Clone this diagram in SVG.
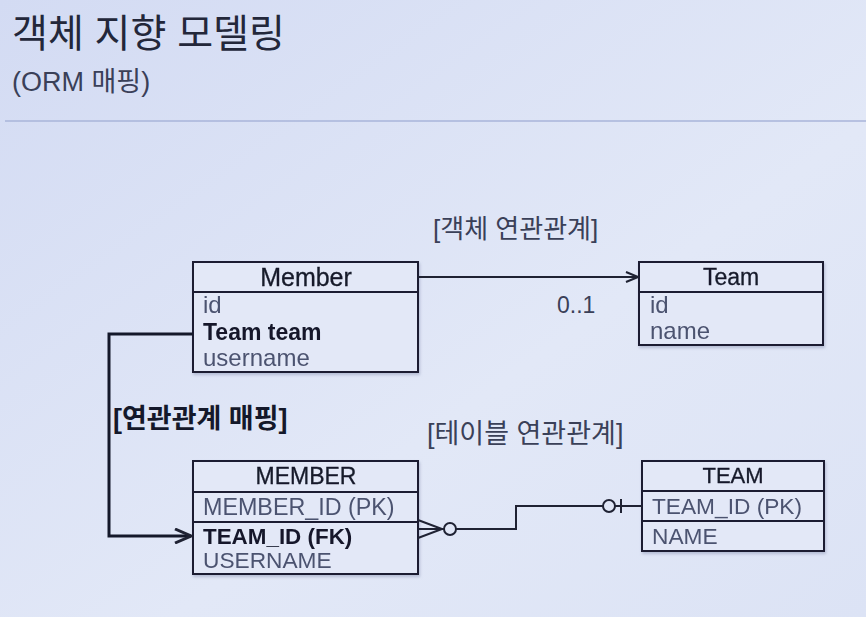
<svg xmlns="http://www.w3.org/2000/svg" width="866" height="617" viewBox="0 0 866 617">
<defs>
<linearGradient id="bg" x1="0" y1="0" x2="1" y2="1">
<stop offset="0" stop-color="#d3dbf3"/>
<stop offset="0.6" stop-color="#e2e8f7"/>
<stop offset="1" stop-color="#dce3f5"/>
</linearGradient>
<marker id="open" markerWidth="14" markerHeight="12" refX="13" refY="6" orient="auto" markerUnits="userSpaceOnUse">
<path d="M1,1 L13,6 L1,11" fill="none" stroke="#1f2233" stroke-width="2"/>
</marker>
<marker id="openB" markerWidth="18" markerHeight="16" refX="17" refY="8" orient="auto" markerUnits="userSpaceOnUse">
<path d="M1,1 L17,8 L1,15" fill="none" stroke="#1f2233" stroke-width="3"/>
</marker>
<filter id="sh" x="-5%" y="-5%" width="110%" height="115%">
<feDropShadow dx="1" dy="2" stdDeviation="1.5" flood-color="#8890b0" flood-opacity="0.5"/>
</filter>
</defs>
<style>
text{font-family:"Liberation Sans","Noto Sans CJK KR",sans-serif;fill:#1e2233}
.box{fill:#e3e8f7;stroke:#1c1f30;stroke-width:2}
.div{stroke:#1c1f30;stroke-width:2}
.hd{font-size:23px;text-anchor:middle;fill:#161a2a;stroke:#161a2a;stroke-width:0.3}
.at{font-size:24px;fill:#4c5370}
.up{font-size:22.7px;fill:#4c5370}
.bd{font-size:23px;fill:#14182a;font-weight:700}
.lbl{font-size:26px;fill:#3a4058}
.ln{fill:none;stroke:#1f2233;stroke-width:2}
</style>
<rect width="866" height="617" fill="url(#bg)"/>
<text x="12" y="47" style="font-size:39px;fill:#23273a">객체 지향 모델링</text>
<text x="12" y="91" style="font-size:27px;fill:#3a4058">(ORM 매핑)</text>
<line x1="5" y1="121" x2="866" y2="121" stroke="#a9b5da" stroke-width="1.5"/>
<text x="433" y="238" class="lbl">[객체 연관관계]</text>
<text x="557" y="313" class="lbl" style="font-size:23px">0..1</text>
<text x="113" y="428" style="font-size:27px;font-weight:700;fill:#14182a">[연관관계 매핑]</text>
<text x="427" y="443" class="lbl" style="font-size:27px">[테이블 연관관계]</text>
<g id="Member" filter="url(#sh)">
<rect class="box" x="193" y="262" width="225" height="110"/>
<line class="div" x1="193" y1="292" x2="418" y2="292"/>
<text class="hd" x="306" y="286" style="font-size:25px">Member</text>
<text class="at" x="203" y="313">id</text>
<text class="bd" x="203" y="340">Team team</text>
<text class="at" x="203" y="366">username</text>
</g>
<g id="Team" filter="url(#sh)">
<rect class="box" x="639" y="262" width="184" height="83"/>
<line class="div" x1="639" y1="292" x2="823" y2="292"/>
<text class="hd" x="731" y="285">Team</text>
<text class="at" x="650" y="313">id</text>
<text class="at" x="650" y="339">name</text>
</g>
<g id="MEMBER" filter="url(#sh)">
<rect class="box" x="193" y="461" width="225" height="113"/>
<line class="div" x1="193" y1="492" x2="418" y2="492"/>
<line class="div" x1="193" y1="522" x2="418" y2="522"/>
<text class="hd" x="306" y="484">MEMBER</text>
<text class="up" x="203" y="515" style="font-size:23.3px">MEMBER_ID (PK)</text>
<text class="bd" x="203" y="544" style="font-size:22.4px">TEAM_ID (FK)</text>
<text class="up" x="203" y="568">USERNAME</text>
</g>
<g id="TEAM" filter="url(#sh)">
<rect class="box" x="642" y="461" width="182" height="90"/>
<line class="div" x1="642" y1="491" x2="824" y2="491"/>
<line class="div" x1="642" y1="521" x2="824" y2="521"/>
<text class="hd" x="733" y="483" style="font-size:22px">TEAM</text>
<text class="up" x="652" y="514">TEAM_ID (PK)</text>
<text class="up" x="652" y="544">NAME</text>
</g>
<g id="connectors">
<line class="ln" x1="418" y1="277" x2="638" y2="277" marker-end="url(#open)"/>
<path d="M193,334 H109 V536 H191" fill="none" stroke="#14182a" stroke-width="3" marker-end="url(#openB)"/>
<path class="ln" d="M418,520 L442,529 L418,538 M418,529 H444"/>
<circle cx="450" cy="529" r="6" class="ln"/>
<path class="ln" d="M456,529 H516 V506 H603"/>
<circle cx="609" cy="506" r="6" class="ln"/>
<path class="ln" d="M615,506 H642 M621,499 V513"/>
</g>
</svg>
